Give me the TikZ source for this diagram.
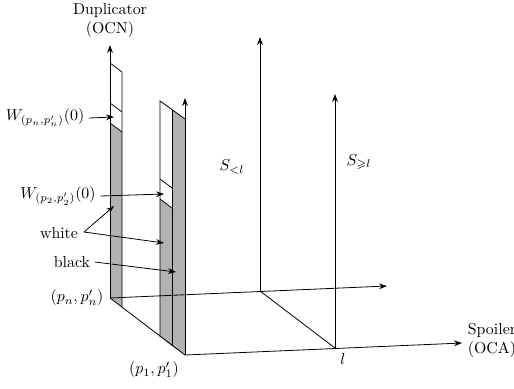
\documentclass[tikz,border=0pt]{standalone}
\usepackage{amssymb}
\usetikzlibrary{arrows.meta}
\begin{document}
\begin{tikzpicture}[x=0.63pt,y=-0.63pt,
  ln/.style={line width=0.5pt},
  ax/.style={line width=0.5pt,-{Stealth[length=5pt,width=3.6pt]}},
  pt/.style={line width=0.5pt,-{Stealth[length=5pt,width=3.6pt]}},
  gr/.style={fill=black!30},
  lbl/.style={inner sep=1pt}]
\useasboundingbox (0,0) rectangle (514,388);
% corners
\coordinate (Pn) at (110,298);
\coordinate (P1) at (185,355);
\coordinate (Bm) at (260,291);
\coordinate (L) at (335,348);
\coordinate (BackEnd) at (387,286);
\coordinate (FrontEnd) at (462,343);
\coordinate (PnTop) at (110,45);
\coordinate (P1Top) at (185,98);
\coordinate (BmTop) at (260,37);
\coordinate (LTop) at (335,94);
% left column fills
\fill[gr] (110,123) -- (122,132) -- (122,307) -- (110,298) -- cycle;
% middle column fills
\fill[gr] (160,199) -- (172,208) -- (172,346) -- (160,337) -- cycle;
\fill[gr] (172,110) -- (185,119) -- (185,355) -- (172,346) -- cycle;
% left column lines
\draw[ln] (110,63) -- (122,72) -- (122,307);
\draw[ln] (110,103) -- (122,112);
\draw[ln] (110,123) -- (122,132);
% middle column lines
\draw[ln] (160,337) -- (160,101) -- (185,119);
\draw[ln] (172,110) -- (172,346);
\draw[ln] (160,179) -- (172,188);
\draw[ln] (160,199) -- (172,208);
% axes
\draw[ln] (Pn) -- (P1);
\draw[ln] (Bm) -- (L);
\draw[ax] (Pn) -- (PnTop);
\draw[ax] (P1) -- (P1Top);
\draw[ax] (Bm) -- (BmTop);
\draw[ax] (L) -- (LTop);
\draw[ax] (Pn) -- (BackEnd);
\draw[ax] (P1) -- (FrontEnd);
% labels
\node[lbl,align=center] (dup) at (110,20) {Duplicator\\(OCN)};
\node[lbl,align=left,anchor=west] (spo) at (466,340) {Spoiler\\(OCA)};
\node[lbl] (pn) at (77,298) {$(p_n,p'_n)$};
\node[lbl] (p1) at (154,370) {$(p_1,p'_1)$};
\node[lbl] (l) at (343,359) {$l$};
\node[lbl] (slt) at (232,167) {$S_{<l}$};
\node[lbl] (sge) at (359,162) {$S_{\geqslant l}$};
\node[lbl] (wn) at (45,118) {$W_{(p_n,p'_n)}(0)$};
\node[lbl] (w2) at (58,196) {$W_{(p_2,p'_2)}(0)$};
\node[lbl] (white) at (59,233) {white};
\node[lbl] (black) at (72,262) {black};
% pointer targets
\coordinate (twn) at (114,117);
\coordinate (tw2) at (164,194);
\coordinate (tw1) at (114,206);
\coordinate (tw3) at (164,243);
\coordinate (tb) at (176,272);
\coordinate (wj) at (84,232);
\draw[pt] (wn.east) ++(3,0) -- (twn);
\draw[pt] (w2.east) ++(3,0) -- (tw2);
\draw[pt] (wj) -- (tw1);
\draw[pt] (wj) -- (tw3);
\draw[pt] (black.east) ++(3,0) -- (tb);
\end{tikzpicture}
\end{document}
